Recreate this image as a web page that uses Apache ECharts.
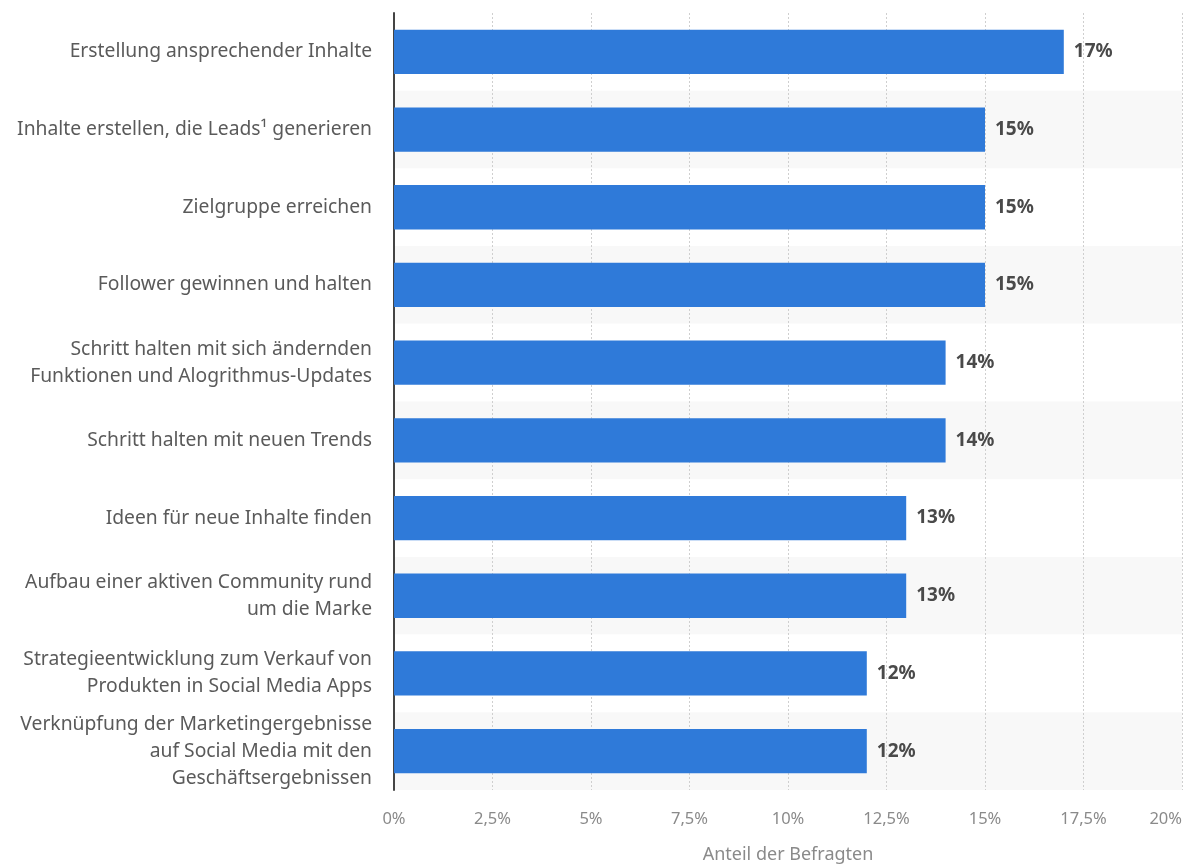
<!DOCTYPE html>
<html><head><meta charset="utf-8">
<script src="https://cdn.jsdelivr.net/npm/echarts@6/dist/echarts.min.js"></script>
<style>html,body{margin:0;padding:0;background:#fff}#c{width:1197px;height:865px}</style>
</head><body><div id="c"></div>
<script>
const categories = [
  "Erstellung ansprechender Inhalte",
  "Inhalte erstellen, die Leads¹ generieren",
  "Zielgruppe erreichen",
  "Follower gewinnen und halten",
  "Schritt halten mit sich ändernden\nFunktionen und Alogrithmus-Updates",
  "Schritt halten mit neuen Trends",
  "Ideen für neue Inhalte finden",
  "Aufbau einer aktiven Community rund\num die Marke",
  "Strategieentwicklung zum Verkauf von\nProdukten in Social Media Apps",
  "Verknüpfung der Marketingergebnisse\nauf Social Media mit den\nGeschäftsergebnissen"
];
const values = [17, 15, 15, 15, 14, 14, 13, 13, 12, 12];
const axisName = "Anteil der Befragten";
const tickMin = 0, tickMax = 20, tickStep = 2.5;

const font = "'Noto Sans', sans-serif";
const chart = echarts.init(document.getElementById('c'), null, {renderer: 'canvas'});
chart.setOption({
  animation: false,
  grid: {left: 394, right: 15, top: 13, bottom: 75, containLabel: false, outerBoundsMode: 'none'},
  xAxis: {
    type: 'value', min: tickMin, max: tickMax, interval: tickStep,
    position: 'bottom',
    axisLine: {show: false}, axisTick: {show: false},
    splitLine: {show: true, lineStyle: {color: '#cfcfcf', type: [2, 2], width: 1}},
    axisLabel: {
      color: '#8a8a8a', fontFamily: font, fontSize: 16.5, margin: 21,
      alignMaxLabel: 'right',
      formatter: v => String(v).replace('.', ',') + '%'
    },
    name: axisName, nameLocation: 'middle', nameGap: 56,
    nameTextStyle: {color: '#8a8a8a', fontFamily: font, fontSize: 18}
  },
  yAxis: {
    type: 'category', data: categories, inverse: true,
    axisLine: {show: true, lineStyle: {color: '#444', width: 2}},
    axisTick: {show: false},
    splitArea: {show: true, areaStyle: {color: ['#ffffff', '#f8f8f8']}},
    axisLabel: {
      color: '#5a5a5a', fontFamily: font, fontSize: 19.3, margin: 22,
      lineHeight: 27, align: 'right'
    }
  },
  series: [{
    type: 'bar', data: values, barCategoryGap: '43%',
    itemStyle: {color: '#2f7ad9'},
    label: {
      show: true, position: 'right', distance: 10,
      formatter: p => p.value + '%',
      color: '#4a4a4a', fontFamily: font, fontSize: 19, fontWeight: 'bold'
    }
  }]
});
</script></body></html>
